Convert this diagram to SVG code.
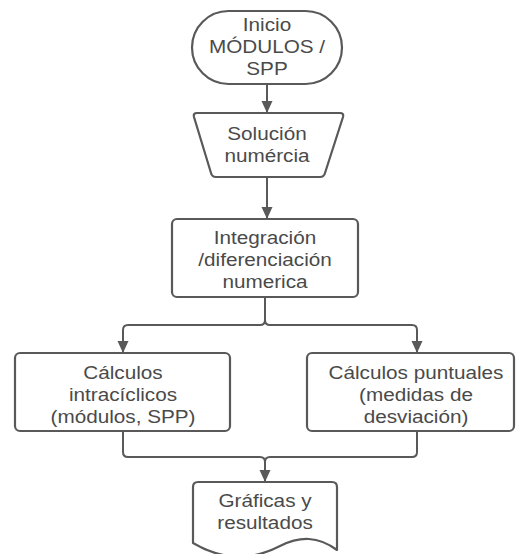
<svg xmlns="http://www.w3.org/2000/svg" width="516" height="554" viewBox="0 0 516 554">
<defs>
<style>
.shape{fill:#ffffff;stroke:#595959;stroke-width:2.2;stroke-linejoin:round}
.conn{fill:none;stroke:#595959;stroke-width:2}
.lbl{font-family:"Liberation Sans",Arial,sans-serif;font-size:18.5px;fill:#4a4a4a;text-anchor:middle}
</style>
<marker id="arr" viewBox="0 0 12 12" refX="11" refY="6" markerWidth="12" markerHeight="12" markerUnits="userSpaceOnUse" orient="auto">
<path d="M0,0.5 L12,6 L0,11.5 Z" fill="#595959"/>
</marker>
</defs>
<rect width="516" height="554" fill="#ffffff"/>
<g id="connectors">
<path class="conn" d="M267,84 V112" marker-end="url(#arr)"/>
<path class="conn" d="M267,177 V218" marker-end="url(#arr)"/>
<path class="conn" d="M265,297 V320 Q265,325 260,325 H128 Q123,325 123,330 V352" marker-end="url(#arr)"/>
<path class="conn" d="M265,320 Q265,325 270,325 H412 Q417,325 417,330 V352" marker-end="url(#arr)"/>
<path class="conn" d="M123,431 V452 Q123,457 128,457 H260 Q265,457 265,462 V481" marker-end="url(#arr)"/>
<path class="conn" d="M417,431 V452 Q417,457 412,457 H270 Q265,457 265,462"/>
</g>
<g id="inicio">
<rect class="shape" x="192" y="11" width="150" height="73" rx="36.5" ry="36.5"/>
<g transform="translate(267,0) scale(1.12,1)">
<text class="lbl" x="0" y="31">Inicio</text>
<text class="lbl" x="0" y="53">MÓDULOS /</text>
<text class="lbl" x="0" y="75">SPP</text>
</g>
</g>
<g id="solucion">
<path class="shape" d="M197,113 H340 Q344,113 343,117 L325,173 Q324,177 320,177 H216 Q212,177 211,173 L194,117 Q193,113 197,113 Z"/>
<g transform="translate(267,0) scale(1.12,1)">
<text class="lbl" x="0" y="140">Solución</text>
<text class="lbl" x="0" y="162">numércia</text>
</g>
</g>
<g id="integracion">
<rect class="shape" x="172" y="219" width="186" height="78" rx="5" ry="5"/>
<g transform="translate(265,0) scale(1.12,1)">
<text class="lbl" x="0" y="244">Integración</text>
<text class="lbl" x="0" y="266">/diferenciación</text>
<text class="lbl" x="0" y="288">numerica</text>
</g>
</g>
<g id="intraciclicos">
<rect class="shape" x="15" y="353" width="215" height="78" rx="5" ry="5"/>
<g transform="translate(123,0) scale(1.12,1)">
<text class="lbl" x="0" y="379">Cálculos</text>
<text class="lbl" x="0" y="401">intracíclicos</text>
<text class="lbl" x="0" y="423">(módulos, SPP)</text>
</g>
</g>
<g id="puntuales">
<rect class="shape" x="307" y="353" width="207" height="78" rx="5" ry="5"/>
<g transform="translate(416,0) scale(1.12,1)">
<text class="lbl" x="0" y="379">Cálculos puntuales</text>
<text class="lbl" x="0" y="401">(medidas de</text>
<text class="lbl" x="0" y="423">desviación)</text>
</g>
</g>
<g id="graficas">
<path class="shape" d="M193,543 V487 Q193,482 198,482 H332 Q337,482 337,487 V550 C318,536 300,536 280,546 C255,559 225,562 193,543 Z"/>
<g transform="translate(265,0) scale(1.12,1)">
<text class="lbl" x="0" y="507">Gráficas y</text>
<text class="lbl" x="0" y="529">resultados</text>
</g>
</g>
</svg>
